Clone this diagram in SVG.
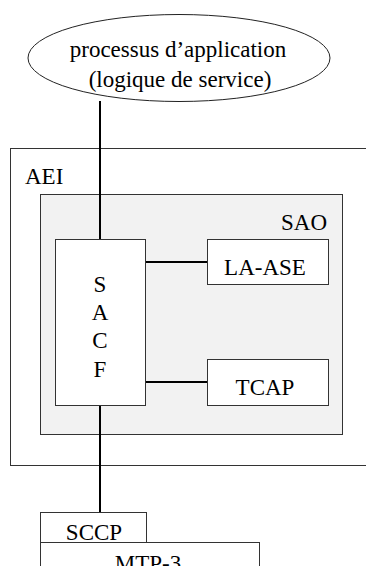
<svg xmlns="http://www.w3.org/2000/svg" width="366" height="566" viewBox="0 0 366 566">
<style>
text{font-family:"Liberation Serif","Times New Roman",serif;font-size:23px;fill:#000}
.box{fill:#fff;stroke:#333;stroke-width:1}
.sao{fill:#f2f2f2;stroke:#333;stroke-width:1}
.c{text-anchor:middle}
.conn line{stroke:#000;stroke-width:2}
</style>
<rect width="366" height="566" fill="#fff"/>
<g id="aei">
<rect x="10.5" y="148.5" width="370" height="317" fill="#fff" stroke="#333" stroke-width="1"/>
<text x="25" y="184">AEI</text>
</g>
<g id="sao">
<rect class="sao" x="40.5" y="194.5" width="302" height="240"/>
<text x="327" y="230" text-anchor="end">SAO</text>
</g>
<g id="conns" class="conn">
<line x1="100" y1="101" x2="100" y2="239"/>
<line x1="146" y1="262" x2="207" y2="262"/>
<line x1="146" y1="382" x2="207" y2="382"/>
<line x1="100" y1="405" x2="100" y2="512"/>
</g>
<g id="processus">
<ellipse cx="179" cy="58" rx="151" ry="43.5" fill="#fff" stroke="#222" stroke-width="1"/>
<text class="c" x="178" y="57">processus d’application</text>
<text class="c" x="180" y="87">(logique de service)</text>
</g>
<g id="sacf">
<rect class="box" x="55.5" y="239.5" width="90" height="166"/>
<text class="c" x="100" y="292">S</text>
<text class="c" x="100" y="320">A</text>
<text class="c" x="100" y="348">C</text>
<text class="c" x="100" y="377">F</text>
</g>
<g id="la-ase">
<rect class="box" x="207.5" y="239.5" width="121" height="45"/>
<text class="c" x="265" y="275">LA-ASE</text>
</g>
<g id="tcap">
<rect class="box" x="207.5" y="359.5" width="121" height="46"/>
<text class="c" x="265" y="395">TCAP</text>
</g>
<g id="sccp">
<rect class="box" x="40.5" y="512.5" width="106" height="40"/>
<text class="c" x="94" y="540">SCCP</text>
</g>
<g id="mtp3">
<rect class="box" x="40.5" y="542.5" width="219" height="40"/>
<text class="c" x="148" y="571">MTP-3</text>
</g>
</svg>
